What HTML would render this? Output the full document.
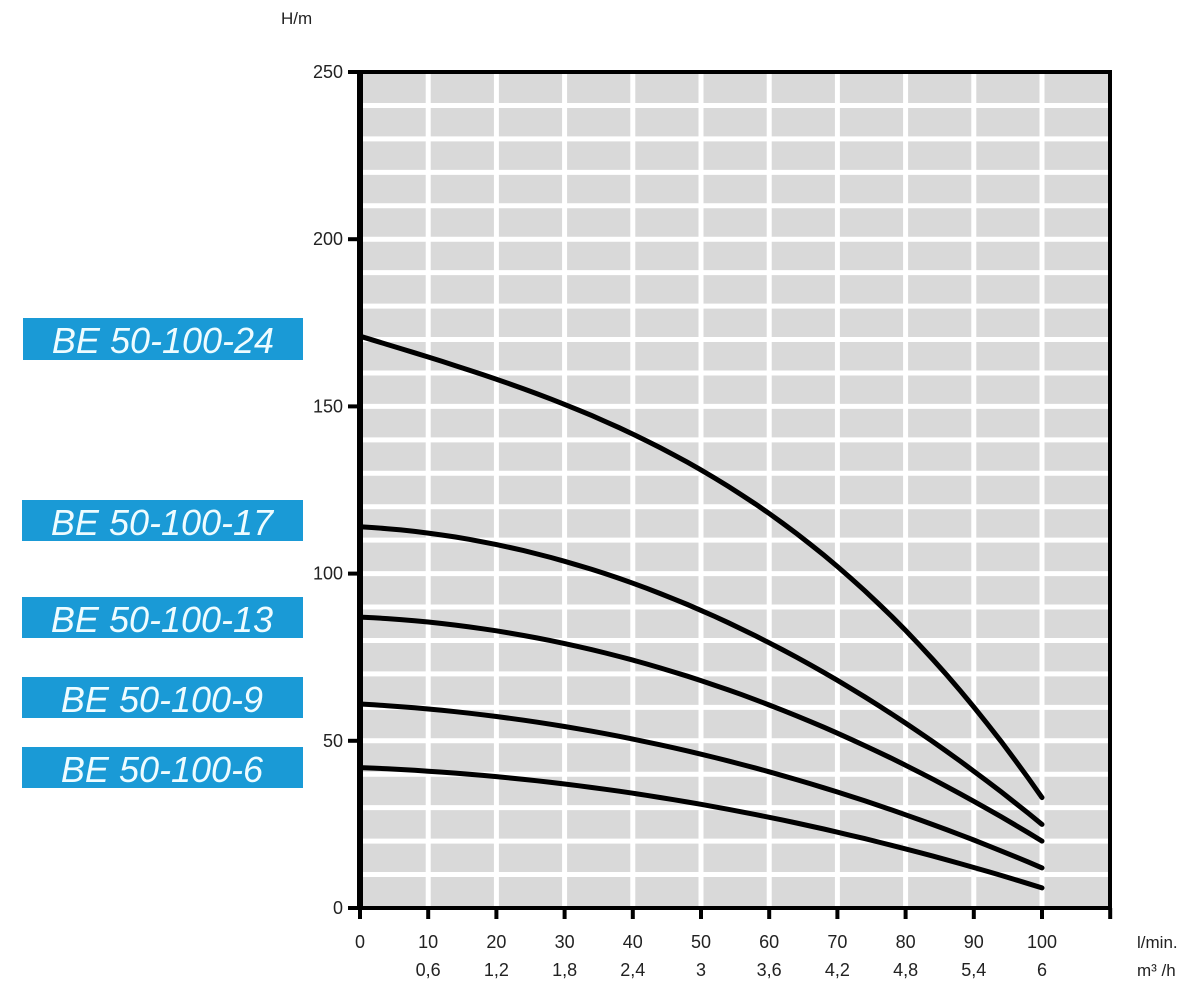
<!DOCTYPE html>
<html><head><meta charset="utf-8"><style>
body{margin:0;background:#fff;width:1198px;height:1000px;overflow:hidden}
svg{display:block}
</style></head><body>
<svg id="s" width="1198" height="1000" xmlns="http://www.w3.org/2000/svg" font-family="Liberation Sans, sans-serif">
<rect x="360" y="72" width="750" height="836" fill="#d9d9d9"/>
<g id="grid" stroke="#fff" stroke-width="5"></g>
<g id="curves" fill="none" stroke="#000" stroke-width="5" stroke-linecap="round"></g>
<path d="M360 72 H1110 V908 H360 Z" fill="none" stroke="#000" stroke-width="4"/>
<line x1="360" y1="70" x2="360" y2="910" stroke="#000" stroke-width="6"/>
<g id="ticks" stroke="#000" stroke-width="4"></g>
<g id="labels" font-size="18" fill="#222"></g>
<text x="281" y="24" font-size="17" fill="#222">H/m</text>
<text x="1137" y="948" font-size="17" fill="#222">l/min.</text>
<text x="1137" y="976" font-size="17" fill="#222">m³ /h</text>
<g font-size="36" font-style="italic" fill="#eefcff" text-anchor="middle">
<rect x="23" y="318" width="280" height="42" fill="#1a9ad6"/><text x="163" y="353">BE 50-100-24</text>
<rect x="22" y="500" width="281" height="41" fill="#1a9ad6"/><text x="162" y="535">BE 50-100-17</text>
<rect x="22" y="597" width="281" height="41" fill="#1a9ad6"/><text x="162" y="632">BE 50-100-13</text>
<rect x="22" y="677" width="281" height="41" fill="#1a9ad6"/><text x="162" y="712">BE 50-100-9</text>
<rect x="22" y="747" width="281" height="41" fill="#1a9ad6"/><text x="162" y="782">BE 50-100-6</text>
</g>
</svg>
<script>
const NS="http://www.w3.org/2000/svg";
const X=v=>360+v*6.82, Y=v=>908-v*3.344;
function el(p,t,a,txt){const e=document.createElementNS(NS,t);for(const k in a)e.setAttribute(k,a[k]);if(txt!==undefined)e.textContent=txt;document.getElementById(p).appendChild(e);}
for(let i=1;i<=10;i++)el("grid","line",{x1:X(i*10),y1:72,x2:X(i*10),y2:908});
for(let i=1;i<25;i++)el("grid","line",{x1:360,y1:Y(i*10),x2:1110,y2:Y(i*10)});
for(let i=0;i<=5;i++){el("ticks","line",{x1:348,y1:Y(i*50),x2:360,y2:Y(i*50)});el("labels","text",{x:343,y:Y(i*50)+6,"text-anchor":"end"},String(i*50));}
const m3=["","0,6","1,2","1,8","2,4","3","3,6","4,2","4,8","5,4","6"];
for(let i=0;i<=11;i++){el("ticks","line",{x1:X(i*10),y1:908,x2:X(i*10),y2:919});}
for(let i=0;i<=10;i++){el("labels","text",{x:X(i*10),y:948,"text-anchor":"middle"},String(i*10));el("labels","text",{x:X(i*10),y:976,"text-anchor":"middle"},m3[i]);}
const fits=[[171,0.62,-0.0004,0.00008],[114,0.11,0.0078,0],[87,0.09,0.0058,0],[61,0.11,0.0038,0],[42,0.08,0.0028,0]];
for(const f of fits){let s="";for(let q=0;q<=100;q+=2){const h=f[0]-f[1]*q-f[2]*q*q-f[3]*q*q*q;s+=(q?" L":"M")+X(q).toFixed(1)+","+Y(h).toFixed(1);}
el("curves","path",{d:s});}
</script>
</body></html>
